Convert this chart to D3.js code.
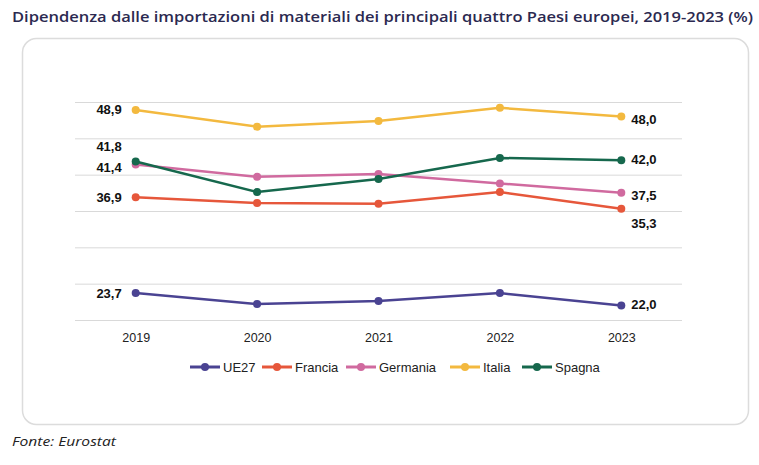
<!DOCTYPE html>
<html>
<head>
<meta charset="utf-8">
<script src="https://cdn.jsdelivr.net/npm/d3@7"></script>
<style>
  body { margin: 0; background: #fff; }
  svg text { font-family: "Liberation Sans", Arial, sans-serif; }
</style>
</head>
<body>
<div id="chart"></div>
<script>
const years = ["2019", "2020", "2021", "2022", "2023"];
const seriesNames = ["UE27", "Francia", "Germania", "Italia", "Spagna"];
const colors = ["#4a4392", "#e6573b", "#d06a9f", "#f3b93f", "#16684d"];
const ue27 = [23.7, 22.2, 22.6, 23.7, 22.0];
const francia = [36.9, 36.1, 36.0, 37.6, 35.3];
const germania = [41.4, 39.7, 40.1, 38.8, 37.5];
const italia = [48.9, 46.6, 47.4, 49.2, 48.0];
const spagna = [41.8, 37.6, 39.4, 42.3, 42.0];
const yTicks = [20, 25, 30, 35, 40, 45, 50];

const allValues = [ue27, francia, germania, italia, spagna];
// label offsets (first / last point) to avoid overlap, like the original
const firstDy = [0, 0, 3, 0, -15];
const lastDy = [0, 16, 4, 4, 0];

const W = 759, H = 465;
const margin = { left: 75, right: 77, top: 102, bottom: 145 };
const innerW = W - margin.left - margin.right;
const innerH = H - margin.top - margin.bottom;

const svg = d3.select("#chart").append("svg").attr("width", W).attr("height", H);

// title
svg.append("text")
  .attr("x", 12).attr("y", 22)
  .attr("fill", "#2b2950")
  .attr("textLength", 741)
  .attr("lengthAdjust", "spacingAndGlyphs")
  .style("font-family", "'Open Sans', sans-serif")
  .style("font-weight", 600)
  .style("font-size", "15px")
  .text("Dipendenza dalle importazioni di materiali dei principali quattro Paesi europei, 2019-2023 (%)");

// frame
svg.append("rect")
  .attr("x", 22.5).attr("y", 38.5)
  .attr("width", 726).attr("height", 386)
  .attr("rx", 14)
  .attr("fill", "none")
  .attr("stroke", "#dcdcdc")
  .attr("stroke-width", 1.5);

const g = svg.append("g").attr("transform", `translate(${margin.left},${margin.top})`);

const x = d3.scalePoint().domain(years).range([0, innerW]).padding(0.5);
const y = d3.scaleLinear().domain([20, 50]).range([innerH, 0]);

// gridlines
g.append("g")
  .call(d3.axisLeft(y).tickValues(yTicks).tickSize(-innerW).tickFormat(""))
  .call(s => s.select(".domain").remove())
  .call(s => s.selectAll("line").attr("stroke", "#d9d9d9"));

// x axis labels
g.append("g")
  .attr("transform", `translate(0,${innerH})`)
  .call(d3.axisBottom(x).tickSize(0).tickPadding(13))
  .call(s => s.select(".domain").remove())
  .call(s => s.selectAll("text").attr("fill", "#222").style("font-size", "12.5px"));

const line = d3.line().x((d, i) => x(years[i])).y(d => y(d));

seriesNames.forEach((name, k) => {
  const vals = allValues[k];
  g.append("path")
    .datum(vals)
    .attr("fill", "none")
    .attr("stroke", colors[k])
    .attr("stroke-width", 2.5)
    .attr("d", line);
  g.selectAll(null)
    .data(vals)
    .join("circle")
    .attr("cx", (d, i) => x(years[i]))
    .attr("cy", d => y(d))
    .attr("r", 4)
    .attr("fill", colors[k]);

  // value labels at first and last year
  g.append("text")
    .attr("x", x(years[0]) - 14)
    .attr("y", y(vals[0]) + firstDy[k] + 4.5)
    .attr("text-anchor", "end")
    .style("font-weight", "bold").style("font-size", "13px")
    .attr("fill", "#111")
    .text(d3.format(".1f")(vals[0]).replace(".", ","));
  g.append("text")
    .attr("x", x(years[4]) + 10)
    .attr("y", y(vals[4]) + lastDy[k] + 3.5)
    .attr("text-anchor", "start")
    .style("font-weight", "bold").style("font-size", "13px")
    .attr("fill", "#111")
    .text(d3.format(".1f")(vals[4]).replace(".", ","));
});

// legend
const legendW = [72, 84, 104, 72, 80];
const legend = svg.append("g").attr("transform", "translate(190,367)");
let lx = 0;
seriesNames.forEach((name, k) => {
  const item = legend.append("g").attr("transform", `translate(${lx},0)`);
  item.append("line").attr("x1", 0).attr("x2", 30).attr("y1", 0).attr("y2", 0)
    .attr("stroke", colors[k]).attr("stroke-width", 3);
  item.append("circle").attr("cx", 15).attr("cy", 0).attr("r", 4).attr("fill", colors[k]);
  item.append("text").attr("x", 33).attr("y", 4.5)
    .style("font-size", "13px").attr("fill", "#222").text(name);
  lx += legendW[k];
});

// source
svg.append("text")
  .attr("x", 12).attr("y", 446)
  .attr("textLength", 104)
  .attr("lengthAdjust", "spacingAndGlyphs")
  .style("font-family", "'Open Sans', sans-serif")
  .style("font-style", "italic").style("font-size", "13.5px")
  .attr("fill", "#222")
  .text("Fonte: Eurostat");
</script>
</body>
</html>
